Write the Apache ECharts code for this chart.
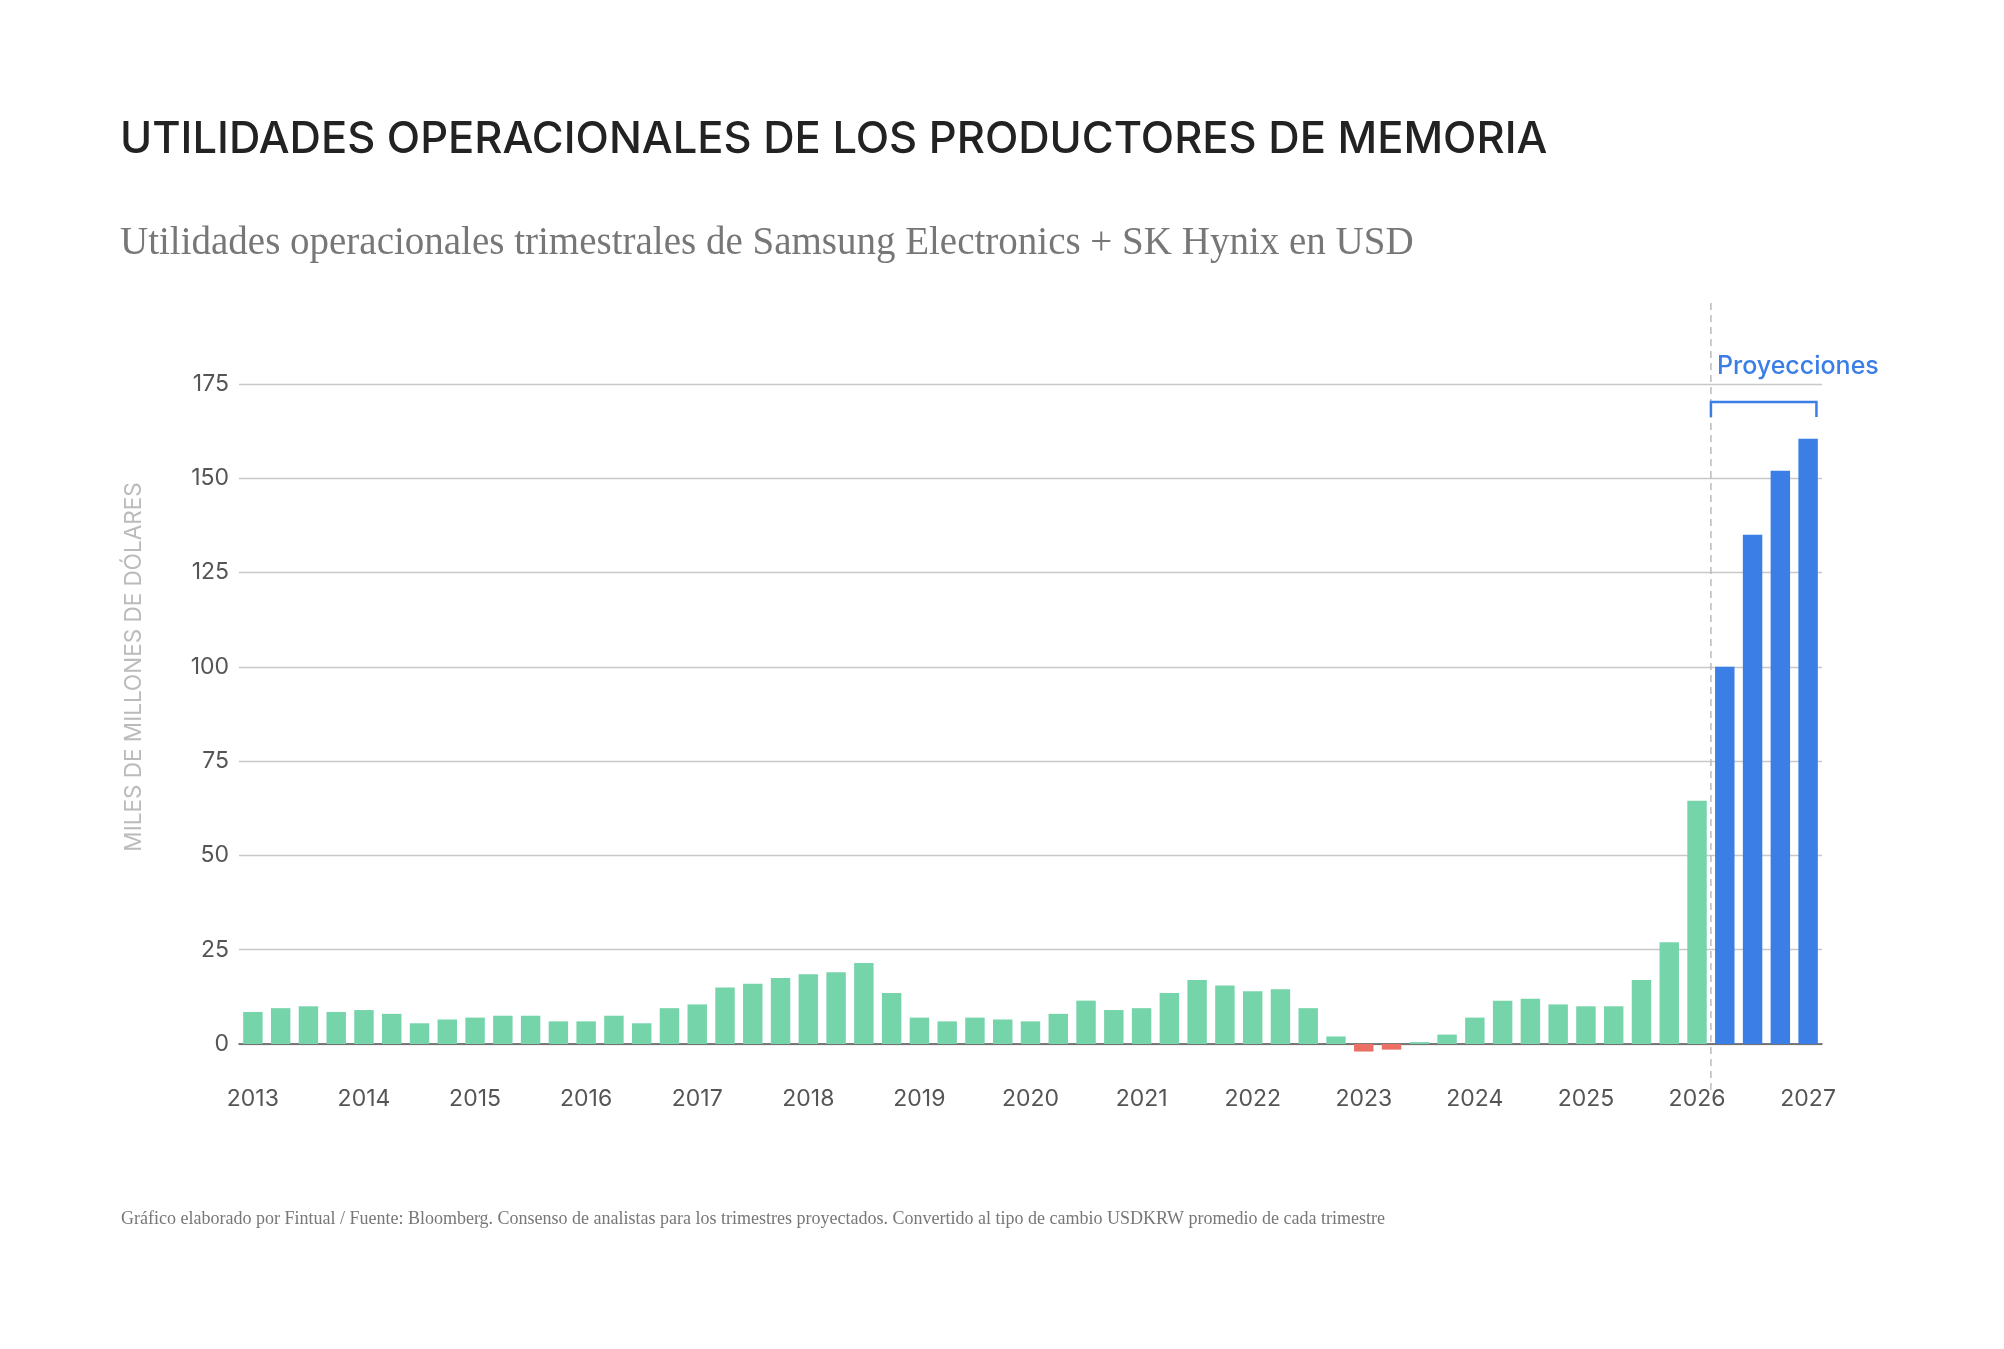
<!DOCTYPE html>
<html><head><meta charset="utf-8">
<script src="https://cdn.jsdelivr.net/npm/echarts@6/dist/echarts.min.js"></script>
<style>html,body{margin:0;background:#fff}#c{width:2004px;height:1349px}</style>
</head><body><div id="c"></div>
<script>
const years = [2013,2014,2015,2016,2017,2018,2019,2020,2021,2022,2023,2024,2025,2026,2027];
const quarters = [];
years.forEach(y => ['Q1','Q2','Q3','Q4'].forEach(q => quarters.push(y + ' ' + q)));
const categories = quarters.slice(0, 57); // 2013 Q1 .. 2027 Q1
const historical = [8.5,9.5,10,8.5,9,8,5.5,6.5,7,7.5,7.5,6,6,7.5,5.5,9.5,10.5,15,16,17.5,18.5,19,21.5,13.5,7,6,7,6.5,6,8,11.5,9,9.5,13.5,17,15.5,14,14.5,9.5,2,-2,-1.5,0.5,2.5,7,11.5,12,10.5,10,10,17,27,64.5];
const projected = [100,135,152,160.5];
const yTicks = [0,25,50,75,100,125,150,175];

const GREEN='#76d4aa', RED='#ec6f66', BLUE='#3a7ee6';
const values = historical.concat(projected);
const data = values.map((v,i) => ({value:v, itemStyle:{color: i>=historical.length ? BLUE : (v<0?RED:GREEN)}}));

const chart = echarts.init(document.getElementById('c'));
chart.setOption({
  backgroundColor:'#fff',
  animation:false,
  title:[
    {text:'UTILIDADES OPERACIONALES DE LOS PRODUCTORES DE MEMORIA',left:115,top:113,
     textStyle:{fontFamily:'Inter',fontWeight:500,fontSize:43.5,color:'#222'}},
    {text:'Utilidades operacionales trimestrales de Samsung Electronics + SK Hynix en USD',left:115,top:219,
     textStyle:{fontFamily:'Liberation Serif',fontWeight:'normal',fontSize:39,color:'#777'}},
    {text:'Gráfico elaborado por Fintual / Fuente: Bloomberg. Consenso de analistas para los trimestres proyectados. Convertido al tipo de cambio USDKRW promedio de cada trimestre',
     left:116,top:1222-17,textStyle:{fontFamily:'Liberation Serif',fontWeight:'normal',fontSize:18,color:'#777'}}
  ],
  grid:{left:239,right:182,top:384,bottom:305},
  xAxis:{type:'category',data:categories,
    axisLine:{lineStyle:{color:'#555',width:1.5}},axisTick:{show:false},
    axisLabel:{interval:0,margin:44,fontFamily:'Inter',fontSize:23,color:'#555',
      formatter:v=>v.endsWith('Q1')?v.slice(0,4):''}},
  yAxis:{type:'value',min:0,max:175,interval:25,
    axisLabel:{fontFamily:'Inter',fontSize:23,color:'#555',margin:10},
    splitLine:{lineStyle:{color:'#c8c8c8',width:1.3}},axisLine:{show:false}},
  series:[{type:'bar',data:data,barWidth:'70%',clip:false}]
});

function addAnnotations(){
  const iSplit = historical.length; // first projected
  const xa = chart.convertToPixel({xAxisIndex:0},categories[iSplit-1]);
  const xb = chart.convertToPixel({xAxisIndex:0},categories[iSplit]);
  const xd = (xa+xb)/2;
  const xl = chart.convertToPixel({xAxisIndex:0},categories[categories.length-1]);
  const bw = (xb-xa)/2;
  const y0 = chart.convertToPixel({yAxisIndex:0},0);
  const yTop = chart.convertToPixel({yAxisIndex:0},175);
  const br = yTop+18;
  chart.setOption({graphic:[
    {type:'line',shape:{x1:xd,y1:303,x2:xd,y2:y0+48},style:{stroke:'#bbb',lineWidth:1.5,lineDash:[7,5]}},
    {type:'polyline',shape:{points:[[xd,br+15],[xd,br],[xl+bw*0.6,br],[xl+bw*0.6,br+15]]},style:{stroke:BLUE,lineWidth:2.5,fill:null}},
    {type:'text',x:xd+6,y:br-48,style:{text:'Proyecciones',fill:BLUE,font:'500 25px Inter'}},
    {type:'text',x:134,y:667,rotation:Math.PI/2,style:{text:'MILES DE MILLONES DE DÓLARES',fill:'#bbb',font:'22.5px Inter',align:'center',verticalAlign:'middle'}}
  ]});
}
addAnnotations();
</script></body></html>
